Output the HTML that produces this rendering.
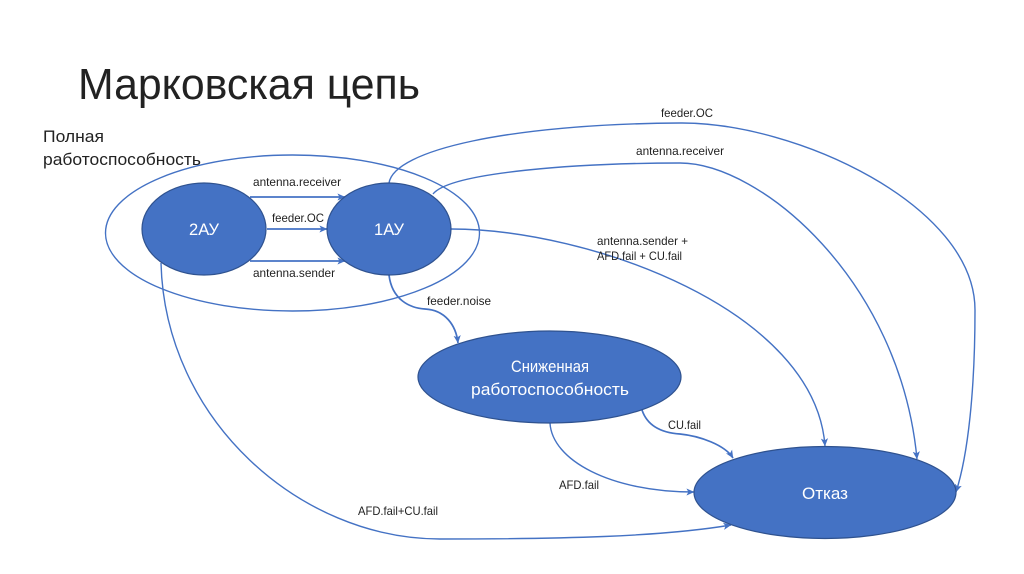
<!DOCTYPE html>
<html lang="ru">
<head>
<meta charset="utf-8">
<title>Марковская цепь</title>
<style>
html,body{margin:0;padding:0;background:#fff;width:1024px;height:574px;overflow:hidden}
svg{display:block;position:absolute;left:0;top:0}
text{font-family:"Liberation Sans","DejaVu Sans",sans-serif}
.l{font-size:12px;fill:#222}
.w{font-size:17px;fill:#fff;text-anchor:middle}
.c{fill:none;stroke:#4472c4;stroke-width:1.4}
.s{fill:none;stroke:#4472c4;stroke-width:1.7}
.n{fill:#4472c4;stroke:#2f528f;stroke-width:1.2}
</style>
</head>
<body>
<svg width="1024" height="574" viewBox="0 0 1024 574" xmlns="http://www.w3.org/2000/svg">
<defs>
<marker id="a" viewBox="0 0 10 10" refX="9.5" refY="5" markerWidth="8" markerHeight="8" markerUnits="userSpaceOnUse" orient="auto">
<path d="M0,0.5 L10,5 L0,9.5 L2.5,5 Z" fill="#4472c4"/>
</marker>
</defs>

<text x="78" y="99" font-size="44" fill="#222" textLength="342" lengthAdjust="spacingAndGlyphs">Марковская цепь</text>
<text x="43" y="142" font-size="16.5" fill="#222" textLength="61" lengthAdjust="spacingAndGlyphs">Полная</text>
<text x="43" y="165" font-size="16.5" fill="#222" textLength="158" lengthAdjust="spacingAndGlyphs">работоспособность</text>

<ellipse cx="292.5" cy="233" rx="187" ry="78" class="c"/>

<path class="c" marker-end="url(#a)" d="M389,183 C394,150 510,124 680,123 C795,122 975,205 975,310 C975,390 968,455 956,492"/>
<path class="c" marker-end="url(#a)" d="M433,194 C450,172 580,163 680,163 C760,163 900,280 917,459"/>
<path class="c" marker-end="url(#a)" d="M451,229 C590,229 815,310 825,446"/>
<path class="s" marker-end="url(#a)" d="M389,275 C392,300 410,308 425,309 C445,310 456,325 458,343"/>
<path class="s" marker-end="url(#a)" d="M642,410 C648,428 665,433 680,434 C700,436 725,445 733,458"/>
<path class="c" marker-end="url(#a)" d="M550,423 C552,460 610,492 694,492"/>
<path class="c" marker-end="url(#a)" d="M161,263 C165,420 300,539 440,539 C560,539 660,537 731,525"/>

<path class="s" marker-end="url(#a)" d="M250,197 L345,197"/>
<path class="s" marker-end="url(#a)" d="M267,229 L327,229"/>
<path class="s" marker-end="url(#a)" d="M250,261 L345,261"/>

<ellipse cx="204" cy="229" rx="62" ry="46" class="n"/>
<ellipse cx="389" cy="229" rx="62" ry="46" class="n"/>
<ellipse cx="549.5" cy="377" rx="131.5" ry="46" class="n"/>
<ellipse cx="825" cy="492.5" rx="131" ry="46" class="n"/>

<text x="204" y="235" class="w" textLength="30" lengthAdjust="spacingAndGlyphs">2АУ</text>
<text x="389" y="235" class="w" textLength="30" lengthAdjust="spacingAndGlyphs">1АУ</text>
<text x="550" y="372" class="w" textLength="78" lengthAdjust="spacingAndGlyphs">Сниженная</text>
<text x="550" y="395" class="w" textLength="158" lengthAdjust="spacingAndGlyphs">работоспособность</text>
<text x="825" y="499" class="w" textLength="46" lengthAdjust="spacingAndGlyphs">Отказ</text>

<text x="253" y="186" class="l" textLength="88" lengthAdjust="spacingAndGlyphs">antenna.receiver</text>
<text x="272" y="222" class="l" textLength="52" lengthAdjust="spacingAndGlyphs">feeder.OC</text>
<text x="253" y="277" class="l" textLength="82" lengthAdjust="spacingAndGlyphs">antenna.sender</text>
<text x="427" y="305" class="l" textLength="64" lengthAdjust="spacingAndGlyphs">feeder.noise</text>
<text x="661" y="117" class="l" textLength="52" lengthAdjust="spacingAndGlyphs">feeder.OC</text>
<text x="636" y="155" class="l" textLength="88" lengthAdjust="spacingAndGlyphs">antenna.receiver</text>
<text x="597" y="245" class="l" textLength="91" lengthAdjust="spacingAndGlyphs">antenna.sender +</text>
<text x="597" y="260" class="l" textLength="85" lengthAdjust="spacingAndGlyphs">AFD.fail + CU.fail</text>
<text x="668" y="429" class="l" textLength="33" lengthAdjust="spacingAndGlyphs">CU.fail</text>
<text x="559" y="489" class="l" textLength="40" lengthAdjust="spacingAndGlyphs">AFD.fail</text>
<text x="358" y="515" class="l" textLength="80" lengthAdjust="spacingAndGlyphs">AFD.fail+CU.fail</text>
</svg>
</body>
</html>
